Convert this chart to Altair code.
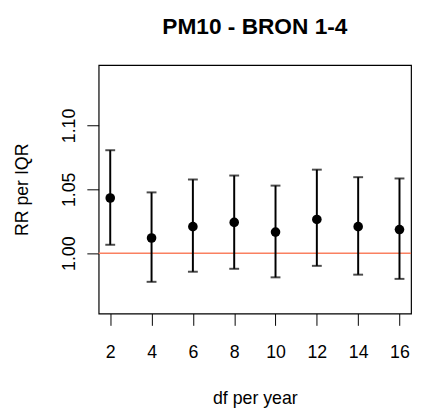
import altair as alt
import pandas as pd

df_per_year = [2, 4, 6, 8, 10, 12, 14, 16]
rr = [1.0432, 1.0119, 1.0208, 1.0241, 1.0165, 1.0264, 1.0208, 1.0185]
lower = [1.0066, 0.9776, 0.9855, 0.9878, 0.9811, 0.9901, 0.9832, 0.9799]
upper = [1.0806, 1.0476, 1.0577, 1.0608, 1.0529, 1.0654, 1.0595, 1.0585]
x_ticks = [2, 4, 6, 8, 10, 12, 14, 16]
y_ticks = [1.00, 1.05, 1.10]
ref_value = [1.0]

data = pd.DataFrame({"df": df_per_year, "rr": rr, "lo": lower, "hi": upper})
ref = pd.DataFrame({"y": ref_value})

FONT = "Liberation Sans"

xs = alt.Scale(domain=[1.44, 16.56], nice=False, zero=False)
ys = alt.Scale(domain=[0.9528, 1.1472], nice=False, zero=False)

xaxis = alt.Axis(values=x_ticks, title="df per year", grid=False, domain=False,
                 tickSize=12, tickColor="black", tickWidth=1,
                 labelFont=FONT, labelFontSize=18, labelColor="black",
                 labelPadding=19, labelFlush=False,
                 titleFont=FONT, titleFontSize=18, titleFontWeight="normal",
                 titleColor="black", titlePadding=28)
yaxis = alt.Axis(values=y_ticks, format=".2f", title="RR per IQR", grid=False,
                 domain=False, tickSize=12, tickColor="black", tickWidth=1,
                 labelFont=FONT, labelFontSize=18, labelColor="black",
                 labelAngle=-90, labelAlign="center", labelBaseline="alphabetic",
                 labelPadding=13, labelFlush=False,
                 titleFont=FONT, titleFontSize=18, titleFontWeight="normal",
                 titleColor="black", titlePadding=29)

base = alt.Chart(data)

rules = base.mark_rule(color="black", strokeWidth=2).encode(
    x=alt.X("df:Q", scale=xs, axis=xaxis),
    y=alt.Y("lo:Q", scale=ys, axis=yaxis),
    y2="hi:Q",
)
caps_hi = base.mark_tick(color="black", size=10, thickness=2, orient="horizontal").encode(
    x=alt.X("df:Q", scale=xs), y=alt.Y("hi:Q", scale=ys))
caps_lo = base.mark_tick(color="black", size=10, thickness=2, orient="horizontal").encode(
    x=alt.X("df:Q", scale=xs), y=alt.Y("lo:Q", scale=ys))
points = base.mark_circle(color="black", opacity=1, size=95).encode(
    x=alt.X("df:Q", scale=xs), y=alt.Y("rr:Q", scale=ys))
hline = alt.Chart(ref).mark_rule(color="#FA8060", strokeWidth=1.6).encode(
    y=alt.Y("y:Q", scale=ys))

chart = alt.layer(hline, rules, caps_hi, caps_lo, points).properties(
    width=317, height=252,
    title=alt.Title("PM10 - BRON 1-4", font=FONT, fontSize=23, fontWeight="bold",
                    color="black", anchor="middle", offset=27),
    autosize=alt.AutoSizeParams(type="none"),
    padding={"left": 92, "top": 55, "right": 4, "bottom": 100},
    background="white",
).configure_view(stroke="black", strokeWidth=1.2)

chart.save("out.html", embed_options={"renderer": "svg", "actions": False})
